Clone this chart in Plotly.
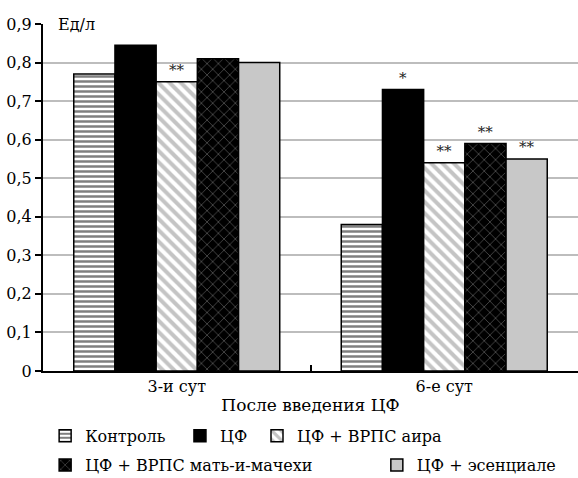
import plotly.graph_objects as go

categories = ["3-и сут", "6-е сут"]
series_names = ["Контроль", "ЦФ", "ЦФ + ВРПС аира", "ЦФ + ВРПС мать-и-мачехи", "ЦФ + эсенциале"]
values = [
    [0.77, 0.38],
    [0.845, 0.73],
    [0.75, 0.54],
    [0.81, 0.59],
    [0.80, 0.55],
]
marks = [
    ["", ""],
    ["", "*"],
    ["**", "**"],
    ["", "**"],
    ["", "**"],
]
y_ticks = [0, 0.1, 0.2, 0.3, 0.4, 0.5, 0.6, 0.7, 0.8, 0.9]
y_tick_labels = ["0", "0,1", "0,2", "0,3", "0,4", "0,5", "0,6", "0,7", "0,8", "0,9"]

styles = [
    dict(color="white", pattern=dict(shape="-", fgcolor="black", bgcolor="white", size=5, solidity=0.5)),
    dict(color="black"),
    dict(color="white", pattern=dict(shape="\\", fgcolor="#8a8a8a", bgcolor="white", size=8, solidity=0.5)),
    dict(color="black", pattern=dict(shape="x", fgcolor="#9a9a9a", bgcolor="black", size=8, solidity=0.2)),
    dict(color="#c8c8c8"),
]
# legend placement per entry (paper x, paper y)
legend_pos = [(0.004, -0.187), (0.256, -0.187), (0.40, -0.187), (0.004, -0.271), (0.624, -0.271)]

FONT = "DejaVu Serif"
fig = go.Figure()
legend_layout = {}
for i, name in enumerate(series_names):
    st = styles[i]
    marker = dict(color=st["color"], line=dict(color="black", width=1.5))
    if "pattern" in st:
        marker["pattern"] = st["pattern"]
    lg = "legend" if i == 0 else f"legend{i+1}"
    fig.add_trace(go.Bar(
        x=categories, y=values[i], name=name, marker=marker,
        text=marks[i], textposition="outside", cliponaxis=False,
        textfont=dict(family=FONT, size=15, color="#222"),
        legend=lg,
    ))
    legend_layout[lg] = dict(
        orientation="h", x=legend_pos[i][0], xanchor="left", y=legend_pos[i][1], yanchor="middle",
        font=dict(family=FONT, size=16), itemwidth=30, bgcolor="rgba(0,0,0,0)",
    )

fig.update_layout(
    width=578, height=478,
    margin=dict(l=43, r=0, t=24, b=107, autoexpand=False),
    paper_bgcolor="white", plot_bgcolor="white",
    barmode="group", bargap=0.23, bargroupgap=0,
    font=dict(family=FONT, size=16, color="black"),
    showlegend=True,
    **legend_layout,
)
fig.update_xaxes(
    type="category", range=[-0.5, 1.5], automargin=False,
    showline=True, linecolor="black", linewidth=2,
    ticks="inside", tickson="boundaries", ticklen=6, tickcolor="black", tickwidth=1.5,
    tickfont=dict(family=FONT, size=16),
    title=dict(text="После введения ЦФ", font=dict(family=FONT, size=17), standoff=4),
    showgrid=False,
)
fig.update_yaxes(
    range=[0, 0.9], tickvals=y_ticks, ticktext=y_tick_labels, automargin=False,
    showline=True, linecolor="black", linewidth=2,
    ticks="outside", ticklen=6, tickcolor="black", tickwidth=1.5,
    showgrid=True, gridcolor="#bdbdbd", gridwidth=2,
    tickfont=dict(family=FONT, size=16),
    zeroline=False,
)
fig.add_annotation(
    text="Ед/л", xref="paper", yref="y", x=0.025, y=0.9, xanchor="left", yanchor="middle",
    showarrow=False, bgcolor="white", font=dict(family=FONT, size=16),
)
fig.write_html(
    "out.html",
    config={"displayModeBar": False},
    post_script="document.body.style.margin='0';document.body.style.overflow='hidden';",
)
